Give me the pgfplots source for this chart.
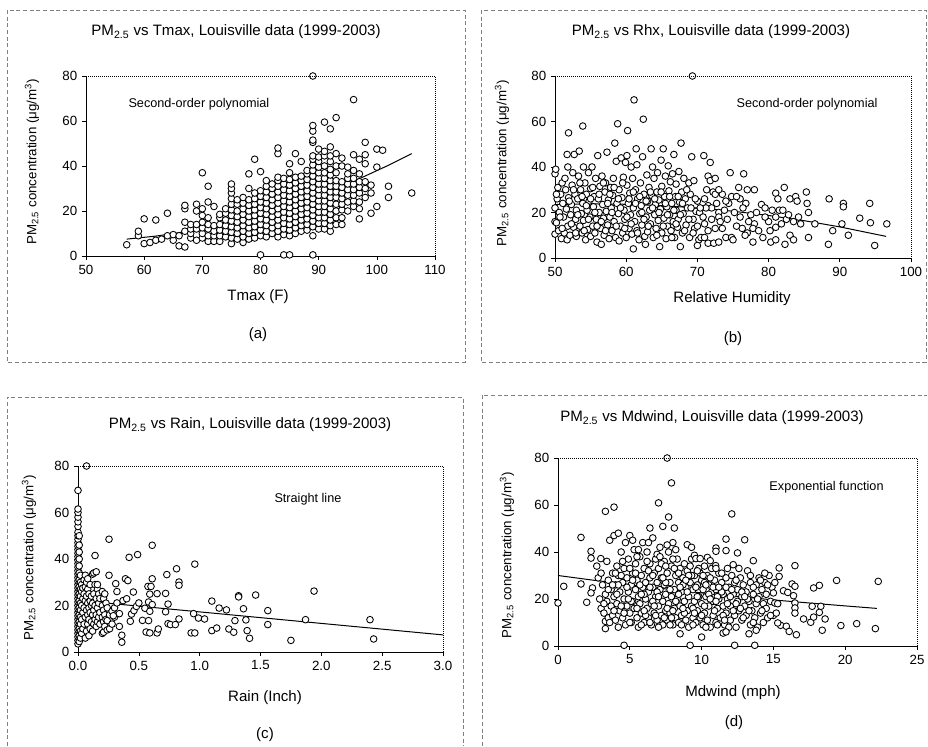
\documentclass[border=0pt]{standalone}
\usepackage{pgfplots}
\pgfplotsset{compat=1.18}
\usepackage{fontspec}
\setmainfont{Liberation Sans}

\pgfplotsset{
  panel/.style={
    scale only axis, anchor=south west,
    axis x line*=bottom, axis y line*=left,
    axis line style={black, line width=0.6pt},
    tick align=outside, major tick length=3pt,
    tick style={black, line width=0.5pt},
    ymin=0, ymax=80, ytick={0,20,...,80},
    clip=false,
    tick label style={font=\fontsize{10}{12}\selectfont},
    /pgf/number format/assume math mode=true,
    extra description/.code={
      \draw[black, densely dotted, line width=0.5pt]
        (rel axis cs:0,1) -- (rel axis cs:1,1) -- (rel axis cs:1,0);
    },
  },
  dots/.style={only marks, mark=*, mark size=2.5pt,
    mark options={fill=white, draw=black, line width=0.65pt}},
  fit/.style={no marks, black, line width=0.75pt},
}
\newcommand{\ttl}{\fontsize{11.3}{13}\selectfont}
\newcommand{\alab}{\fontsize{11.3}{13}\selectfont}
\newcommand{\ylab}{\fontsize{10}{12}\selectfont PM\textsubscript{2.5} concentration (μg/m\textsuperscript{3})}
\newcommand{\note}{\fontsize{9.5}{11}\selectfont}

\begin{document}
\begin{tikzpicture}
\useasboundingbox (0,0) rectangle (696pt,559.5pt);

% panel frames
\begin{scope}[gray, densely dashed, line width=0.5pt]
  \draw (5.25pt,552pt) rectangle (348.75pt,288pt);
  \draw (360.75pt,552pt) rectangle (694.5pt,288pt);
  \draw (5.25pt,0pt) -- (5.25pt,261.75pt) -- (347.25pt,261.75pt) -- (347.25pt,0pt);
  \draw (361.5pt,0pt) -- (361.5pt,263.25pt) -- (695.5pt,263.25pt);
\end{scope}

% ---------------- (a) PM2.5 vs Tmax ----------------
\begin{axis}[panel, at={(64.5pt,367.5pt)}, width=261.75pt, height=135pt,
  xmin=50, xmax=110, xtick={50,60,...,110}]
\addplot[fit] coordinates {(57,7.5) (62,8.84) (67,10.75) (72,13.25) (77,16.32)
  (82,19.96) (87,24.19) (92,28.99) (97,34.36) (102,40.32) (106,45.5)};
\addplot[dots] coordinates {
(57,5) (59,9) (59,11) (60,5.5) (60,16.5) (61,6) (62,7) (62,16) (63,7.5)
(64,9) (64,19) (65,7) (65,9.5) (66,4.5) (66,9)
(67,4) (67,11) (67,15) (67,21) (67,22.5)
(68,8) (68,10) (68,12) (68,14)
(69,7) (69,12) (69,14) (69,20) (69,23)
(70,8) (70,10) (70,12.5) (70,15) (70,18) (70,21) (70,37)
(71,6.5) (71,9) (71,12) (71,14) (71,17) (71,24) (71,31)
(72,6.5) (72,9) (72,11) (72,13.5) (72,22)
(73,6.5) (73,9) (73,11.5) (73,14) (73,17) (73,18.5)
(74,8.5) (74,11) (74,13.5) (74,16) (74,19) (74,21)
(75,5.5) (75,8) (75,10.5) (75,13) (75,15.5) (75,18) (75,20.5) (75,23) (75,25.5) (75,28) (75,30) (75,32)
(76,7.5) (76,10) (76,12.5) (76,15) (76,17.5) (76,20) (76,23) (76,25)
(77,6) (77,8.5) (77,11) (77,13.5) (77,16) (77,18.5) (77,21) (77,23.5) (77,26)
(78,7.5) (78,10) (78,12.5) (78,15) (78,17.5) (78,20) (78,22.5) (78,25) (78,30) (78,36.5)
(79,8) (79,10.5) (79,13) (79,15.5) (79,18) (79,20.5) (79,23) (79,25.5) (79,28) (79,43)
(80,0.5) (80,9) (80,11.5) (80,14) (80,16.5) (80,19) (80,21.5) (80,24) (80,26.5) (80,29) (80,37.5)
(81,8.5) (81,11) (81,13.5) (81,16) (81,18.5) (81,21) (81,23.5) (81,26) (81,28.5) (81,31) (81,33.5)
(82,10) (82,12.5) (82,15) (82,17.5) (82,20) (82,22.5) (82,25) (82,27.5) (82,30) (82,32)
(83,8.5) (83,11) (83,13.5) (83,16) (83,18.5) (83,21) (83,23.5) (83,26) (83,28.5) (83,31) (83,33.5) (83,35) (83,45.5) (83,48)
(84,0.5) (84,9.5) (84,12) (84,14.5) (84,17) (84,19.5) (84,22) (84,24.5) (84,27) (84,29.5) (84,32) (84,34.5)
(85,0.5) (85,9) (85,11.5) (85,14) (85,16.5) (85,19) (85,21.5) (85,24) (85,26.5) (85,29) (85,31.5) (85,34) (85,37) (85,41)
(86,10) (86,12.5) (86,15) (86,17.5) (86,20) (86,22.5) (86,25) (86,27.5) (86,30) (86,32.5) (86,35) (86,45.5)
(87,11) (87,13.5) (87,16) (87,18.5) (87,21) (87,23.5) (87,26) (87,28.5) (87,31) (87,33.5) (87,35.5) (87,42)
(88,11.5) (88,14) (88,16.5) (88,19) (88,21.5) (88,24) (88,26.5) (88,29) (88,31.5) (88,34) (88,36.5) (88,38)
(89,0.5) (89,9) (89,13) (89,15.5) (89,18) (89,20.5) (89,23) (89,25.5) (89,28) (89,30.5) (89,33) (89,35.5) (89,38) (89,40.5) (89,43) (89,44.5) (89,50.5) (89,51.5) (89,55.5) (89,58) (89,80)
(90,12) (90,14.5) (90,17) (90,19.5) (90,22) (90,24.5) (90,27) (90,29.5) (90,32) (90,34.5) (90,37) (90,39.5) (90,42) (90,44) (90,47.5)
(91,12) (91,14.5) (91,17) (91,19.5) (91,22) (91,24.5) (91,27) (91,29.5) (91,32) (91,34.5) (91,37) (91,40) (91,44.5) (91,46.5) (91,59.5)
(92,11) (92,13.5) (92,16) (92,18.5) (92,21) (92,23.5) (92,26) (92,28.5) (92,31) (92,33.5) (92,36) (92,38.5) (92,42) (92,44.5) (92,48.5) (92,56.5)
(93,14) (93,17) (93,20) (93,23) (93,26) (93,28.5) (93,31) (93,33.5) (93,37) (93,40) (93,45.5) (93,61.5)
(94,14) (94,17) (94,20.5) (94,23) (94,25.5) (94,28) (94,30.5) (94,33) (94,40) (94,43.5)
(95,20) (95,24) (95,27) (95,29.5) (95,32) (95,34.5) (95,36.5) (95,39.5)
(96,22) (96,24.5) (96,27) (96,29.5) (96,32) (96,34.5) (96,38) (96,45) (96,69.5)
(97,16.5) (97,21) (97,24) (97,28) (97,30.5) (97,33) (97,36.5) (97,43)
(98,26) (98,30) (98,33) (98,41) (98,45) (98,50.5)
(99,19) (99,28) (99,31.5) (100,22) (100,39.5) (100,47.5) (101,47)
(102,26) (102,31) (106,28)
};
\node[anchor=west, font=\note] at (axis cs:56.5,67.5) {Second-order polynomial};
\end{axis}

% ---------------- (b) PM2.5 vs Rhx ----------------
\begin{axis}[panel, at={(416.25pt,366pt)}, width=267pt, height=136.5pt,
  xmin=50, xmax=100, xtick={50,60,...,100}]
\addplot[fit] coordinates {(50,23.5) (55,23.77) (60,23.61) (65,23.0) (70,22.0)
  (75,20.56) (80,18.69) (85,16.4) (90,13.67) (96.5,9.5)};
\addplot[dots] coordinates {
(50,10.5) (50,16) (50,22) (50,37) (50.1,39) (50.3,26) (50.4,31) (50.2,15.5) (50.5,12) (50.6,20)
(50.8,28) (50.9,8.5) (51,33) (51.1,24) (51.2,18) (51.3,11) (51.5,30) (51.6,21.5) (51.7,8) (51.8,14)
(51.9,26.5) (51.8,40) (51.7,45.5) (51.9,55)
(52.1,10) (52.2,19) (52.3,23.5) (52.4,32) (52.5,37.5) (52.6,13.5) (52.7,45.5) (52.8,28) (52.9,17) (53,21)
(53,9.5) (53.2,26) (53.3,36) (53.4,47) (53.5,14) (53.6,30) (53.7,19.5) (53.8,11) (53.9,58) (53.9,24)
(54,40) (54,16.5) (54.2,33) (54.3,8) (54.4,28) (54.5,21) (54.6,12.5) (54.7,37.5) (54.8,25) (54.9,18)
(55,9.5) (55,30.5) (55.2,40) (55.3,14) (55.4,22.5) (55.5,27) (55.6,11) (55.7,35) (55.8,17) (55.9,7)
(56,45) (56.1,26) (56.2,20) (56.3,31.5) (56.4,13) (56.5,6) (56.6,36) (56.7,23.5) (56.8,17.5) (56.9,10)
(57,29) (57.1,33) (57.2,20.5) (57.3,46.5) (57.4,14.5) (57.5,25.5) (57.6,8.5) (57.7,18) (57.8,31) (57.9,22)
(58,12) (58.1,27.5) (58.2,35) (58.3,16) (58.4,50.5) (58.5,9) (58.6,42.5) (58.7,24) (58.8,59) (58.9,19.5)
(59,30) (59,7.5) (59.2,14) (59.3,44) (59.4,26.5) (59.5,11) (59.6,35.5) (59.7,21) (59.8,17) (59.9,42)
(60,9) (60.1,32) (60.1,45) (60.2,56) (60.3,24) (60.4,13) (60.5,28.5) (60.6,19) (60.7,40) (60.8,10.5)
(60.9,35) (61,4) (61,22) (61.1,69.5) (61.2,16) (61.3,30) (61.4,48) (61.5,41) (61.5,12) (61.6,26)
(61.8,8) (61.9,19.5) (62,33) (62.1,23) (62.2,14.5) (62.3,44.5) (62.4,61) (62.5,28) (62.6,9.5) (62.7,6)
(62.8,18) (62.9,36.5) (63,25) (63,11.5) (63.2,31) (63.3,21) (63.4,15) (63.5,48) (63.6,27.5) (63.7,40)
(63.8,9) (63.9,35) (64,19) (64.1,23.5) (64.2,13) (64.3,29) (64.4,37.5) (64.5,16.5) (64.6,25.5) (64.7,5)
(64.8,21.5) (64.9,43) (65,11) (65,31.5) (65.2,48) (65.3,17.5) (65.4,27) (65.5,36) (65.6,8.5) (65.7,22.5)
(65.8,14) (65.9,40.5) (66,29.5) (66.1,19) (66.2,33.5) (66.3,12) (66.4,24) (66.5,37) (66.6,16) (66.7,45.5)
(66.8,9) (66.9,27) (67,21) (67,32.5) (67.2,13.5) (67.3,17) (67.4,38) (67.5,24.5) (67.6,5) (67.7,50.5)
(67.8,29) (67.9,11) (68,19.5) (68.1,35) (68.3,26) (68.4,14.5) (68.6,22) (68.8,33) (68.9,9) (69,28)
(69.2,44.5) (69.3,80) (69.4,17) (69.5,34) (69.6,13) (69.8,20.5) (70,25) (70.2,8)
(70.5,9) (70,5.5) (71.5,6.5) (72.3,6.5) (73,7) (71,15) (70.3,20) (70.9,45) (71.8,42) (71.5,36)
(71.8,34) (72.5,35) (72.2,29) (71,26) (71.5,23) (72,22) (73,20) (71.2,22) (72,17) (73,18)
(73.2,16) (72.5,13) (73.5,13) (74,9) (74.8,9) (75.5,14) (76.3,13) (75,8) (71.5,12) (71,9)
(73.5,28) (72.5,28) (73,30) (74.4,24) (74.8,27) (74,25) (74.6,37.5) (75.8,31) (76,26) (75.5,27)
(76.8,24) (76.5,37) (77,30) (78,30) (77.5,19) (78.3,20) (78,15) (77.8,13) (77,11) (76.7,10)
(77.8,7) (79,23.5) (79.5,22) (80.5,21) (81.5,21) (82,21) (81,18) (82.5,17) (80,16) (79.2,9)
(80.3,7) (81,8) (81,13.5) (81,28.5) (81.3,26) (82.2,31) (83,26) (83.8,27) (84,25) (84.2,18)
(83.5,16) (84.5,15) (83,10) (83.5,8) (82.3,6) (85.3,29) (85.4,24) (85.6,20) (85.6,9) (86.5,15)
(88.5,26) (88.4,6) (89,12) (90.3,15) (90.5,24) (90.5,22.5) (91.2,10) (92.8,17.5) (94.2,24) (94.3,15.5)
(94.9,5.5) (96.6,15)
(50.2,28) (50.7,18) (51.0,13) (51.4,35) (52.0,25) (52.3,15) (52.6,30) (52.9,11) (53.2,19) (53.5,33)
(53.8,27) (54.1,12) (54.4,23) (54.7,17) (55.0,26) (55.3,31) (55.6,20) (55.9,14) (56.2,28) (56.5,16)
(56.8,33) (57.1,12) (57.4,24) (57.7,28) (58.0,20) (58.3,31) (58.6,14) (58.9,26) (59.2,22) (59.5,33)
(59.8,13) (60.1,18) (60.4,26) (60.7,15) (61.0,29) (61.3,24) (61.6,11) (61.9,27) (62.2,20) (62.5,17)
(62.8,25) (63.1,14) (63.4,29) (63.7,22) (64.0,26) (64.3,10) (64.6,20) (64.9,29) (65.2,14) (65.5,24)
(65.8,19) (66.1,27) (66.4,9) (66.7,21) (67.0,15) (67.3,27) (67.6,19) (67.9,24) (68.2,12) (68.5,30)
(68.8,17) (69.1,22) (69.4,11) (69.7,26) (70.0,14) (70.4,22) (70.8,18) (71.3,30) (72.7,24) (73.8,21)
(74.2,17) (75.2,20) (76.0,18) (76.4,22) (77.2,16) (78.6,12) (79.5,18) (80.2,12) (81.8,15) (82.8,19)
};
\node[font=\note] at (axis cs:85.4,67.7) {Second-order polynomial};
\end{axis}

% ---------------- (c) PM2.5 vs Rain ----------------
\begin{axis}[panel, at={(58.5pt,70.5pt)}, width=273.75pt, height=139.5pt,
  xmin=0, xmax=3, xtick={0,0.5,...,3},
  xticklabel style={/pgf/number format/.cd, fixed, fixed zerofill, precision=1}]
\addplot[fit] coordinates {(0,22.2) (0.5,19.73) (1,17.25) (1.5,14.78) (2,12.3) (2.5,9.83) (3,7.35)};
\addplot[dots] coordinates {
(0,3.5) (0,5) (0,6.5) (0,8) (0,9.5) (0,11) (0,12.5) (0,14) (0,15.5) (0,17) (0,18.5) (0,20)
(0,21.5) (0,23) (0,24.5) (0,26) (0,27.5) (0,29) (0,30.5) (0,32) (0,33.5) (0,35) (0,36.5) (0,38)
(0,39.5) (0,41) (0,42.5) (0,44) (0,45.5) (0,47) (0,48.5) (0,50) (0,51.5) (0,54) (0,56) (0,58)
(0,60) (0,61.5) (0,69.5)
(0.01,4.5) (0.01,7) (0.01,10) (0.01,13) (0.01,16) (0.01,19) (0.01,22) (0.01,25) (0.01,28) (0.01,31)
(0.01,34) (0.01,37) (0.01,40) (0.01,43) (0.01,46) (0.01,50)
(0.02,6) (0.02,9) (0.02,12) (0.02,15) (0.02,18) (0.02,21) (0.02,24) (0.02,27) (0.02,30) (0.02,33)
(0.03,8) (0.03,14) (0.03,20) (0.03,26) (0.03,29) (0.04,10) (0.04,17) (0.04,23) (0.04,27.5)
(0.05,12) (0.05,19) (0.05,25) (0.05,31) (0.06,6) (0.06,15) (0.06,22) (0.06,28) (0.06,33)
(0.07,9) (0.07,18) (0.07,24) (0.07,30) (0.07,80) (0.08,12) (0.08,16) (0.08,21) (0.08,27) (0.08,31.5)
(0.09,7) (0.09,14) (0.09,19) (0.09,25) (0.10,10) (0.10,17) (0.10,22) (0.10,29)
(0.11,13) (0.11,20) (0.11,24) (0.12,9) (0.12,16) (0.12,21) (0.12,33.5)
(0.13,12) (0.13,18) (0.13,25) (0.13,34) (0.14,14) (0.14,20) (0.14,29) (0.14,41.5)
(0.15,11) (0.15,16) (0.15,23) (0.15,34.5) (0.16,13) (0.16,19) (0.16,27) (0.16,29)
(0.17,15) (0.17,21) (0.17,25) (0.18,12) (0.18,17) (0.18,23)
(0.20,8) (0.20,15) (0.20,20) (0.20,26) (0.21,8.5) (0.21,13) (0.21,18) (0.21,23)
(0.22,11) (0.22,16) (0.22,25) (0.23,14) (0.23,21) (0.24,9.5) (0.24,13.5) (0.24,19)
(0.255,33) (0.255,48.5) (0.26,10) (0.26,16) (0.28,12) (0.28,17.5) (0.30,15) (0.30,19)
(0.31,29.4) (0.32,26) (0.32,21.1) (0.34,16.5) (0.29,15.6) (0.34,11) (0.36,7.2) (0.36,4.2)
(0.37,22.1) (0.40,22.9) (0.39,31.5) (0.41,30.7) (0.42,40.7) (0.43,13.2) (0.44,16.3) (0.46,17.8)
(0.455,25.8) (0.48,19.6) (0.49,41.9) (0.50,21.1) (0.53,13.6) (0.55,18.8) (0.56,8.6) (0.575,28.2)
(0.58,13.5) (0.58,21.5) (0.59,8.2) (0.59,17.5) (0.59,24.9) (0.60,28.2) (0.61,31.5) (0.61,45.9)
(0.61,20.4) (0.65,25.1) (0.65,8.2) (0.66,9.9) (0.72,25.2) (0.72,17.3) (0.73,33.3) (0.74,20.6)
(0.74,12.2) (0.76,11.8) (0.80,11.8) (0.81,35.8) (0.83,30.1) (0.83,28.7) (0.83,14.2)
(0.93,8.2) (0.95,16.5) (0.96,8.2) (0.96,37.8) (0.99,14.6) (1.04,14.2) (1.10,21.9) (1.10,9.2)
(1.14,10.3) (1.16,18.9) (1.22,18.1) (1.24,9.9) (1.28,8.5) (1.29,13.5) (1.32,24.2) (1.32,23.7)
(1.36,18.6) (1.38,13.8) (1.39,9.2) (1.41,5.9) (1.46,24.5) (1.56,17.8) (1.56,11.8) (1.75,5)
(1.87,13.9) (1.94,26.2) (2.40,13.9) (2.43,5.6)
};
\node[font=\note] at (axis cs:1.89,65.8) {Straight line};
\end{axis}

% ---------------- (d) PM2.5 vs Mdwind ----------------
\begin{axis}[panel, at={(418.5pt,75pt)}, width=269.25pt, height=141pt,
  xmin=0, xmax=25, xtick={0,5,...,25}]
\addplot[fit] coordinates {(0,30) (2.5,27.97) (5,26.1) (7.5,24.3) (10,22.6) (12.5,21.1)
  (15,19.6) (17.5,18.3) (20,17.06) (22.2,16.0)};
\addplot[dots] coordinates {
(0,18.3) (0.4,25.4) (1.6,46.2) (1.6,26.4) (2.0,18.6) (2.3,40.3) (2.3,37.4) (2.4,24.7) (2.3,22.6) (2.98,37.2)
(3.3,57.3) (3.9,59.1) (3.3,7.4) (3.3,10.5) (4.6,0.3) (9.2,0.3) (12.3,0.3) (13.7,0.3)
(7.6,80) (7.9,69.4) (7.0,60.9) (12.1,56.2) (7.7,54.9) (7.3,50.9) (6.4,50.2) (8.1,50.2)
(2.7,34) (2.8,29) (2.9,20) (3.0,16) (3.0,31) (3.1,26) (3.2,14) (3.3,22) (3.4,36) (3.4,19)
(3.5,12) (3.5,28) (3.6,45) (3.7,24) (3.7,17) (3.8,31) (3.8,13) (3.9,47) (3.9,21) (4.0,26)
(4.0,11) (4.1,34) (4.1,18) (4.2,30) (4.2,48) (4.3,15) (4.3,23) (4.4,40) (4.5,27) (4.5,12)
(4.6,20) (4.6,33) (4.7,9) (4.7,44) (4.8,17) (4.8,29) (4.9,23) (4.9,37) (5.0,14) (5.0,47)
(5.1,26) (5.1,10) (5.2,31) (5.2,19) (5.3,41) (5.3,16) (5.4,24) (5.4,35) (5.5,12) (5.5,28)
(5.6,21) (5.6,8) (5.7,38) (5.7,18) (5.8,30) (5.8,14) (5.9,25) (5.9,44) (6.0,10) (6.0,33)
(6.1,20) (6.1,27) (6.2,16) (6.2,40) (6.3,23) (6.3,12) (6.4,35) (6.4,29) (6.5,18) (6.5,9)
(6.6,25) (6.6,46) (6.7,14) (6.7,31) (6.8,21) (6.8,37) (6.9,11) (6.9,27) (7.0,17) (7.0,33)
(7.1,24) (7.1,42) (7.2,13) (7.2,29) (7.3,19) (7.3,9) (7.4,36) (7.4,26) (7.5,15) (7.5,22)
(7.6,31) (7.6,11) (7.7,40) (7.7,18) (7.8,27) (7.8,14) (7.9,34) (7.9,21) (8.0,9) (8.0,44)
(8.1,24) (8.1,16) (8.2,30) (8.2,12) (8.3,37) (8.3,20) (8.4,27) (8.4,10) (8.5,33) (8.5,17)
(8.6,23) (8.6,13) (8.7,29) (8.8,19) (8.8,35) (8.9,11) (8.9,25) (9.0,15) (9.0,32) (9.1,21)
(9.1,8) (9.2,27) (9.3,17) (9.3,37) (9.4,12) (9.4,24) (9.5,30) (9.5,19) (9.6,10) (9.7,26)
(9.7,15) (9.8,33) (9.8,21) (9.9,12) (10.0,28) (10.0,18) (10.1,24) (10.1,9) (10.2,34) (10.2,14)
(10.3,21) (10.4,30) (10.4,11) (10.5,17) (10.5,26) (10.6,8) (10.7,23) (10.7,33) (10.8,13) (10.8,19)
(10.9,28) (11.0,10) (11.0,24) (11.1,16) (11.2,31) (11.2,20) (11.3,12) (11.4,27) (11.5,17) (11.5,22)
(11.6,9) (11.7,29) (11.7,14) (11.8,20) (11.9,25) (12.0,11) (12.0,17) (12.1,30) (12.2,22) (12.3,13)
(12.3,27) (12.4,8) (12.5,19) (12.5,24) (12.6,15) (12.7,29) (12.8,11) (12.8,21) (12.9,26) (13.0,17)
(13.1,13) (13.1,23) (13.2,32) (13.3,19) (13.4,9) (13.4,27) (13.5,15) (13.6,22) (13.7,12) (13.8,26)
(13.8,18) (13.9,8) (14.0,21) (14.0,29) (14.1,14) (14.2,24) (14.3,10) (14.3,18) (14.4,27) (14.5,16)
(14.5,22) (14.6,12) (14.7,30) (14.8,19) (14.9,25) (15.0,13) (15.1,27)
(4.1,22) (4.4,30) (4.8,25) (5.1,19) (5.4,31) (5.7,26) (6.0,22) (6.3,32) (6.6,19) (6.9,23)
(7.2,35) (7.5,27) (7.8,24) (8.1,33) (8.4,22) (8.7,26) (9.0,23) (9.3,30) (9.6,25) (9.9,31)
(10.2,27) (10.5,22) (10.8,25) (11.1,21) (11.4,23) (11.7,25) (12.0,21) (12.4,18) (12.8,23) (13.2,20)
(3.6,10) (4.2,8) (5.0,10) (5.8,9) (6.4,10) (7.0,8) (7.8,9) (8.6,9) (9.4,9) (10.3,8)
(11.1,9) (11.9,8) (4.5,36) (5.6,41) (6.9,39) (7.6,43) (8.2,41) (5.2,45) (6.3,44)
(10,3.8) (8.5,5.2) (11.5,5.5) (11.7,6) (13.3,5.2) (13.8,6.7)
(9,43.1) (9.5,38.6) (9.6,37.2) (9.3,42) (10.4,37.7) (10.6,36.3) (10.98,34.2) (9.9,37.2)
(11,41.7) (11,40.3) (11.7,40.6) (11.7,45.5) (12.2,34.6) (12.5,39.6) (13,45.2) (13.6,36.3)
(15,22.6) (15.1,18.3) (15.3,18) (15.2,14) (15.5,8.8) (15.3,9.8) (15.4,29.6) (15.4,33.2)
(15.7,23.5) (16,22.8) (16.3,26.4) (16.5,25.4) (16.4,21.4) (16.5,18.3) (16.5,16.2) (16.5,14)
(15.9,8.4) (16.1,6.2) (16.6,4.8) (16.5,34.2) (17.1,11.5) (17.6,10.1) (17.7,16.9) (17.8,12.3)
(17.8,24.7) (18.2,25.8) (18.3,16.9) (18.2,14.3) (18.4,6.7) (18.6,11.5) (19.4,27.9) (19.7,8.7)
(20.8,9.5) (22.1,7.4) (22.3,27.5)
(3.2,18) (3.5,24) (3.9,15) (4.2,26) (4.6,14) (4.9,20) (5.2,28) (5.5,16) (5.8,22) (6.1,13)
(6.4,25) (6.7,17) (7.0,21) (7.3,29) (7.6,16) (7.9,12) (8.2,19) (8.5,25) (8.8,14) (9.1,30)
(9.4,16) (9.7,21) (10.0,13) (10.3,26) (10.6,20) (10.9,15) (11.2,25) (11.5,13) (11.8,18) (12.1,24)
(12.4,28) (12.7,16) (13.0,21) (13.3,15) (13.6,25) (13.9,20) (14.2,15) (14.6,26) (5.0,33) (5.5,38)
(6.2,36) (6.6,30) (7.1,38) (7.5,34) (8.0,37) (8.4,31) (8.9,28) (9.2,34) (9.7,32) (10.1,30)
(10.6,29) (11.0,33) (11.4,31) (11.8,33) (12.6,33) (13.4,30) (14.1,28) (14.4,31) (4.4,17) (4.0,31)
(3.8,26) (6.0,15) (6.8,13) (7.4,12) (8.0,15) (8.7,16) (9.5,14) (10.2,17) (11.0,19) (11.6,11)
(12.2,15) (12.9,12) (13.6,10) (14.8,13)
};
\node[font=\note] at (axis cs:18.7,67.7) {Exponential function};
\end{axis}

% titles, axis titles and panel letters
\node[font=\ttl] at (177pt,535.5pt) {PM\textsubscript{2.5} vs Tmax, Louisville data (1999-2003)};
\node[font=\ttl] at (533.25pt,535.5pt) {PM\textsubscript{2.5} vs Rhx, Louisville data (1999-2003)};
\node[font=\ttl] at (187.5pt,240.75pt) {PM\textsubscript{2.5} vs Rain, Louisville data (1999-2003)};
\node[font=\ttl] at (534pt,246pt) {PM\textsubscript{2.5} vs Mdwind, Louisville data (1999-2003)};

\node[font=\alab] at (193.5pt,336.75pt) {Tmax (F)};
\node[font=\alab] at (549pt,335.25pt) {Relative Humidity};
\node[font=\alab] at (198.75pt,36pt) {Rain (Inch)};
\node[font=\alab] at (549.75pt,39.75pt) {Mdwind (mph)};

\node[font=\alab] at (193.5pt,308.25pt) {(a)};
\node[font=\alab] at (549.75pt,305.25pt) {(b)};
\node[font=\alab] at (198.75pt,8.25pt) {(c)};
\node[font=\alab] at (550.5pt,17.25pt) {(d)};

\node[rotate=90] at (24pt,438pt) {\ylab};
\node[rotate=90] at (376.5pt,437pt) {\ylab};
\node[rotate=90] at (21.75pt,141pt) {\ylab};
\node[rotate=90] at (380.25pt,143pt) {\ylab};
\end{tikzpicture}
\end{document}
